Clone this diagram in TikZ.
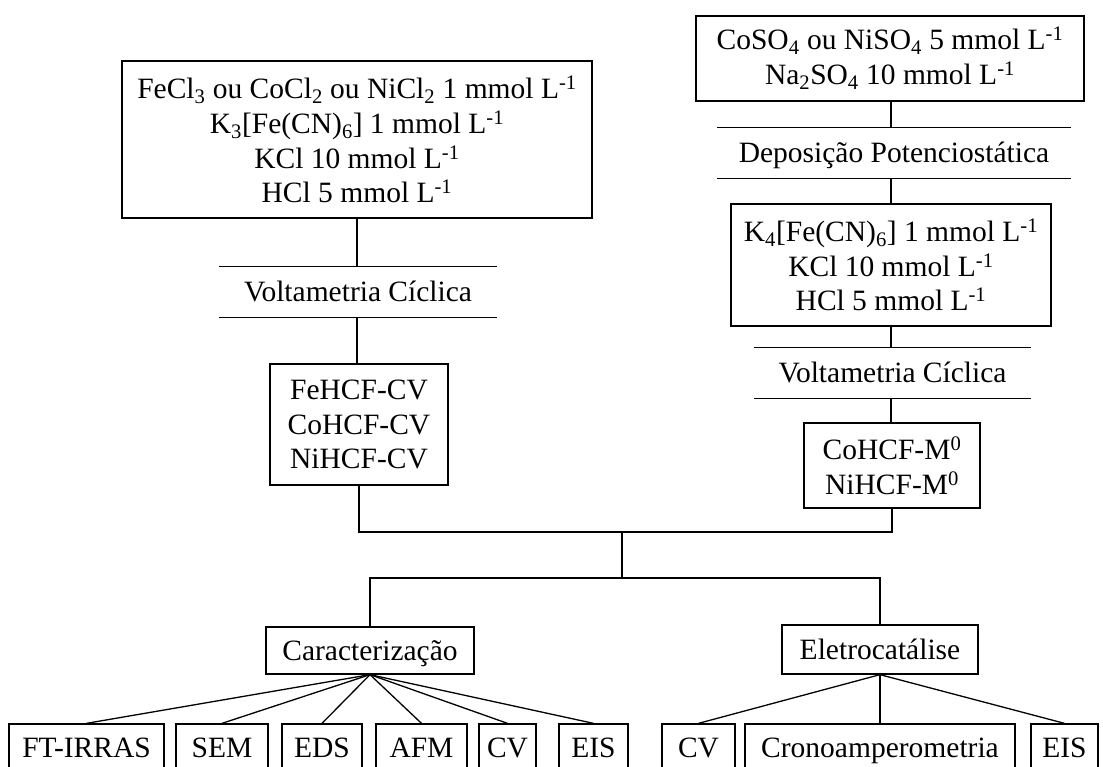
\documentclass[tikz,border=0pt]{standalone}
\usepackage{fontspec}
\setmainfont{Liberation Serif}
\usetikzlibrary{positioning}

\tikzset{
  caixa/.style={draw, line width=1.3pt, inner sep=0pt, align=center,
    font=\fontsize{29.5}{34.8}\selectfont},
  etapa/.style={inner sep=0pt, align=center,
    font=\fontsize{29.5}{34.8}\selectfont},
  linha/.style={text height=24pt, text depth=4.5pt},
  liga/.style={line width=1.3pt}
}

\begin{document}
\begin{tikzpicture}[x=1pt, y=-1pt]
  \useasboundingbox (0,0) rectangle (1103,767);
  \clip (0,0) rectangle (1103,767);

  % Ramo esquerdo
  \node[caixa, minimum width=470pt, minimum height=157pt] (sol1) at (357,139.5) {
    FeCl\textsubscript{3} ou CoCl\textsubscript{2} ou NiCl\textsubscript{2} 1 mmol L\textsuperscript{-1}\\
    K\textsubscript{3}[Fe(CN)\textsubscript{6}] 1 mmol L\textsuperscript{-1}\\
    KCl 10 mmol L\textsuperscript{-1}\\
    HCl 5 mmol L\textsuperscript{-1}
  };
  \node[etapa, linha, minimum width=278pt, minimum height=50pt] (volt1) at (358,292) {Voltametria Cíclica};
  \node[caixa, minimum width=178pt, minimum height=121pt] (prod1) at (359,424.5) {
    FeHCF-CV\\
    CoHCF-CV\\
    NiHCF-CV
  };

  % Ramo direito
  \node[caixa, minimum width=388pt, minimum height=85pt] (sol2) at (890,58.5) {
    CoSO\textsubscript{4} ou NiSO\textsubscript{4} 5 mmol L\textsuperscript{-1}\\
    Na\textsubscript{2}SO\textsubscript{4} 10 mmol L\textsuperscript{-1}
  };
  \node[etapa, linha, minimum width=354pt, minimum height=50pt] (dep) at (894,153) {Deposição Potenciostática};
  \node[caixa, minimum width=320pt, minimum height=122pt] (sol3) at (891,265) {
    K\textsubscript{4}[Fe(CN)\textsubscript{6}] 1 mmol L\textsuperscript{-1}\\
    KCl 10 mmol L\textsuperscript{-1}\\
    HCl 5 mmol L\textsuperscript{-1}
  };
  \node[etapa, linha, minimum width=277pt, minimum height=50pt] (volt2) at (892.5,373) {Voltametria Cíclica};
  \node[caixa, minimum width=176pt, minimum height=85pt] (prod2) at (892,465.5) {
    CoHCF-M\textsuperscript{0}\\
    NiHCF-M\textsuperscript{0}
  };

  % Linhas das etapas
  \foreach \n in {volt1, dep, volt2} {
    \draw[liga] (\n.north west) -- (\n.north east);
    \draw[liga] (\n.south west) -- (\n.south east);
  }

  \draw[liga] (sol1.south) -- (sol1.south |- volt1.north);
  \draw[liga] (volt1.south -| sol1.south) -- (prod1.north -| sol1.south);
  \draw[liga] (sol3.north |- sol2.south) -- (sol3.north |- dep.north);
  \draw[liga] (sol3.north |- dep.south) -- (sol3.north);
  \draw[liga] (sol3.south) -- (sol3.south |- volt2.north);
  \draw[liga] (sol3.south |- volt2.south) -- (sol3.south |- prod2.north);

  % Junção
  \coordinate (jn) at (622,532);
  \coordinate (split) at (622,578);
  \draw[liga] (prod1.south) |- (jn) -| (prod2.south);
  \draw[liga] (jn) -- (split);

  \node[caixa, linha, minimum width=208pt, minimum height=47pt] (carac) at (370,650.5) {Caracterização};
  \node[caixa, linha, minimum width=196pt, minimum height=49pt] (eletro) at (880,649.5) {Eletrocatálise};
  \draw[liga] (carac.north) |- (split) -| (eletro.north);

  % Técnicas
  \node[caixa, linha, minimum width=155pt, minimum height=48pt] (ftir) at (86.5,748) {FT-IRRAS};
  \node[caixa, linha, minimum width=92pt, minimum height=48pt] (sem) at (222,748) {SEM};
  \node[caixa, linha, minimum width=80pt, minimum height=48pt] (eds) at (322,748) {EDS};
  \node[caixa, linha, minimum width=91pt, minimum height=48pt] (afm) at (421.5,748) {AFM};
  \node[caixa, linha, minimum width=57pt, minimum height=48pt] (cv1) at (507.5,748) {CV};
  \node[caixa, linha, minimum width=69pt, minimum height=48pt] (eis1) at (593.5,748) {EIS};
  \node[caixa, linha, minimum width=73pt, minimum height=48pt] (cv2) at (698.5,748) {CV};
  \node[caixa, linha, minimum width=270pt, minimum height=48pt] (crono) at (880,748) {Cronoamperometria};
  \node[caixa, linha, minimum width=67pt, minimum height=48pt] (eis2) at (1064.5,748) {EIS};

  \foreach \t in {ftir, sem, eds, afm, cv1, eis1}
    \draw[liga] (carac.south) -- (\t.north);
  \foreach \t in {cv2, crono, eis2}
    \draw[liga] (eletro.south) -- (\t.north);
\end{tikzpicture}
\end{document}
